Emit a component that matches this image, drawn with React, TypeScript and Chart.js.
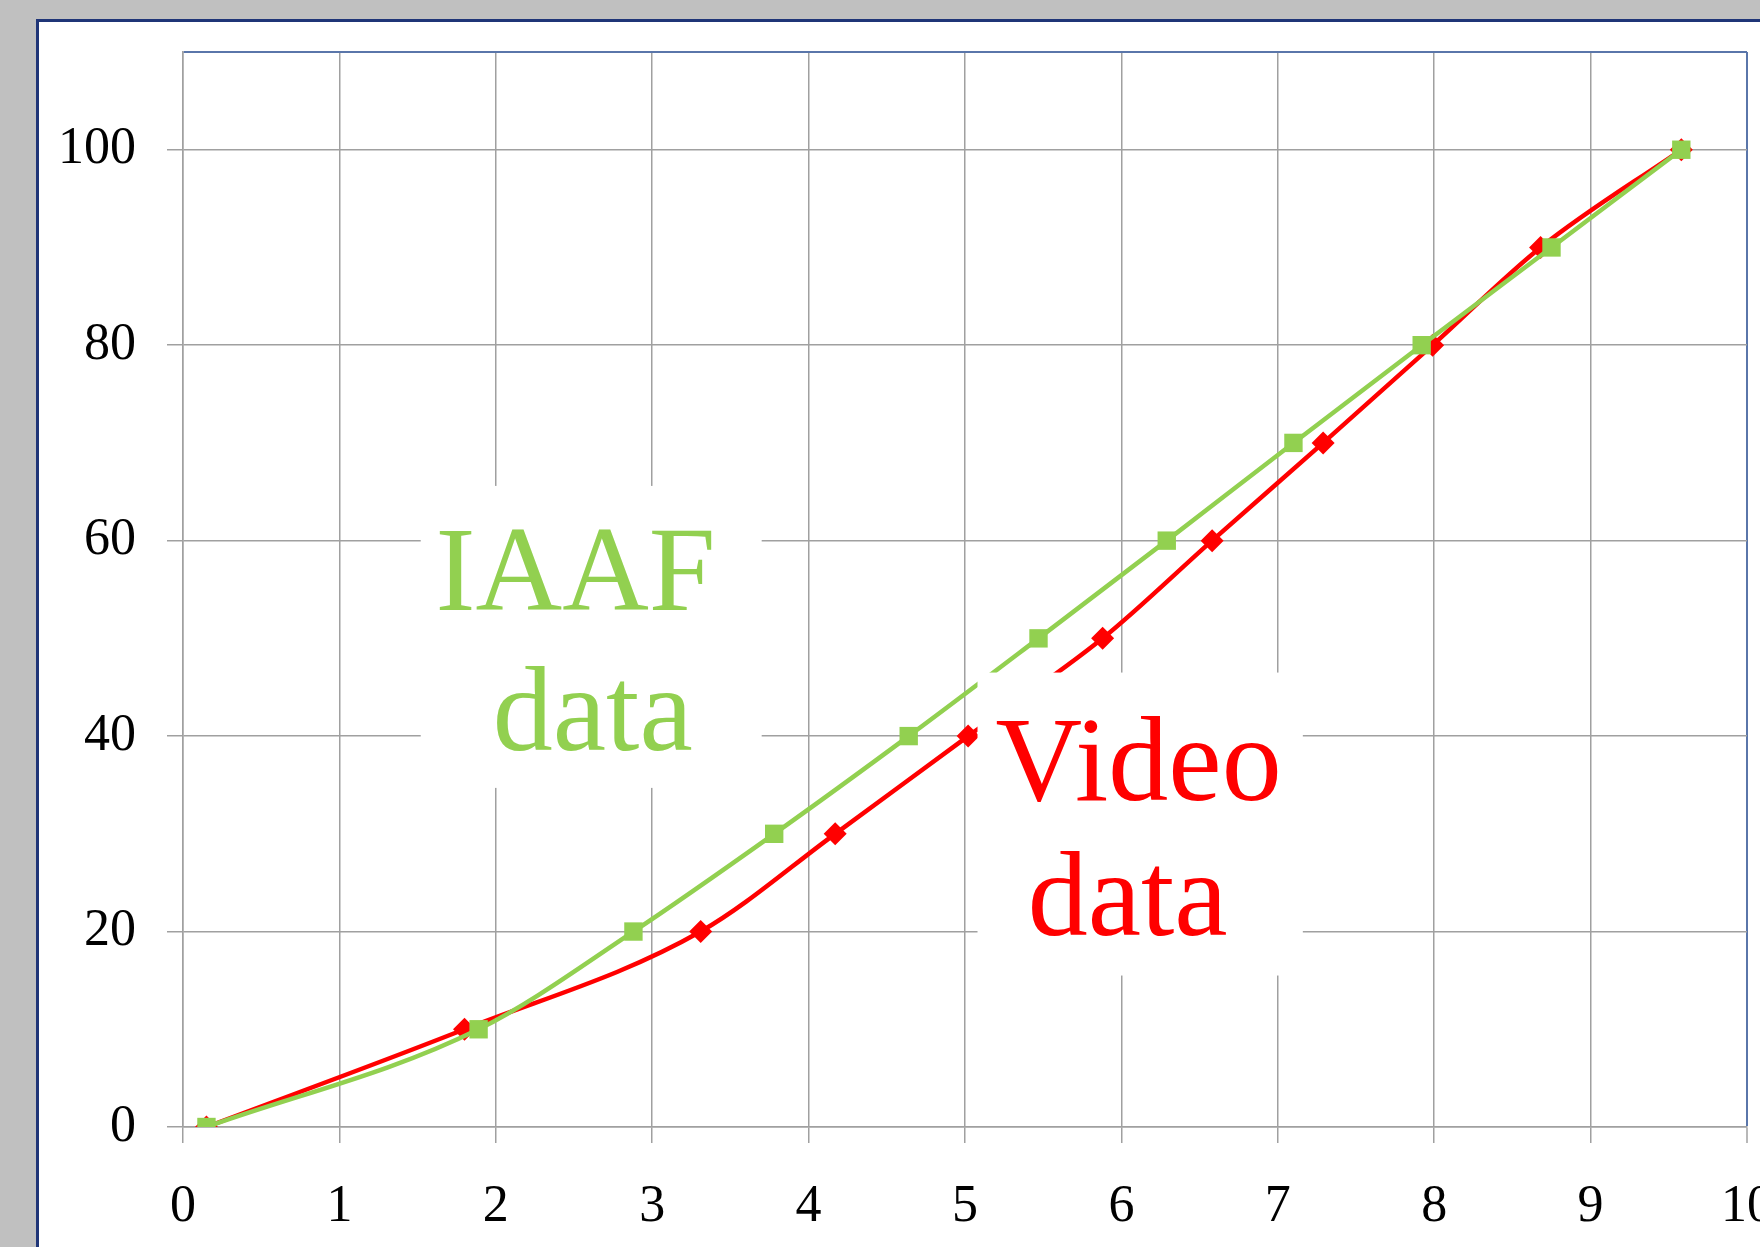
import React, { useEffect, useRef } from "react";
import { Chart, registerables } from "chart.js";

Chart.register(...registerables);

// Split times (s) at each 10 m mark (distance in m)
const distances = [0, 10, 20, 30, 40, 50, 60, 70, 80, 90, 100];
const videoTimes = [0.15, 1.8, 3.31, 4.17, 5.02, 5.88, 6.58, 7.29, 7.99, 8.68, 9.58];
const iaafTimes = [0.15, 1.89, 2.88, 3.78, 4.64, 5.47, 6.29, 7.1, 7.92, 8.75, 9.58];
const xTicks = [0, 1, 2, 3, 4, 5, 6, 7, 8, 9, 10];
const yTicks = [0, 20, 40, 60, 80, 100, 110];

// Text annotations placed in data coordinates
const labelIAAF = ["IAAF", "data"];
const labelVideo = ["Video", "data"];

const GREEN = "#92d050";
const RED = "#ff0000";
const GRID = "#a0a0a0";
const FRAME = "#5a76aa";
const SERIF = "'Liberation Serif', 'Times New Roman', serif";

const annotationPlugin = {
  id: "textBoxes",
  afterDatasetsDraw(chart: any) {
    const { ctx, scales } = chart;
    const xs = scales.x;
    const ys = scales.y;
    const boxes = [
      { x0: 1.52, x1: 3.7, y0: 65.6, y1: 34.7, lines: labelIAAF, color: GREEN, cx: [2.51, 2.62], base: [52.9, 38.6] },
      { x0: 5.08, x1: 7.16, y0: 46.5, y1: 15.5, lines: labelVideo, color: RED, cx: [6.11, 6.04], base: [33.5, 19.65] },
    ];
    ctx.save();
    for (const b of boxes) {
      const l = xs.getPixelForValue(b.x0);
      const r = xs.getPixelForValue(b.x1);
      const t = ys.getPixelForValue(b.y0);
      const bt = ys.getPixelForValue(b.y1);
      ctx.fillStyle = "#ffffff";
      ctx.fillRect(l, t, r - l, bt - t);
      ctx.fillStyle = b.color;
      ctx.font = `120px ${SERIF}`;
      ctx.textAlign = "center";
      ctx.textBaseline = "alphabetic";
      b.lines.forEach((s: string, i: number) => {
        ctx.fillText(s, xs.getPixelForValue(b.cx[i]), ys.getPixelForValue(b.base[i]));
      });
    }
    ctx.restore();
  },
};

export default function App() {
  const ref = useRef<HTMLCanvasElement>(null);
  useEffect(() => {
    document.body.style.margin = "0";
    const c = ref.current!;
    const chart = new Chart(c, {
      type: "line",
      data: {
        datasets: [
          {
            label: "IAAF data",
            data: distances.map((d, i) => ({ x: iaafTimes[i], y: d })),
            borderColor: GREEN,
            backgroundColor: GREEN,
            borderWidth: 4.5,
            pointStyle: "rect",
            pointRadius: 13,
            pointBorderWidth: 0,
            cubicInterpolationMode: "monotone",
            order: 0,
          },
          {
            label: "Video data",
            data: distances.map((d, i) => ({ x: videoTimes[i], y: d })),
            borderColor: RED,
            backgroundColor: RED,
            borderWidth: 4.5,
            pointStyle: "rectRot",
            pointRadius: 11.5,
            pointBorderWidth: 0,
            cubicInterpolationMode: "monotone",
            order: 1,
          },
        ],
      },
      options: {
        animation: false,
        responsive: false,
        events: [],
        layout: { padding: { left: 0, right: 9, top: 52, bottom: 0 } },
        plugins: { legend: { display: false }, tooltip: { enabled: false } },
        scales: {
          x: {
            type: "linear",
            min: 0,
            max: 10,
            afterBuildTicks: (s: any) => {
              s.ticks = xTicks.map((v) => ({ value: v }));
            },
            afterFit: (s: any) => {
              s.height = 120;
              s.paddingLeft = 0;
              s.paddingRight = 0;
            },
            ticks: {
              font: { family: SERIF, size: 52 },
              color: "#000",
              padding: 33,
              maxRotation: 0,
              autoSkip: false,
            },
            grid: {
              color: (ctx: any) => (ctx.tick && ctx.tick.value === 10 ? FRAME : GRID),
              lineWidth: (ctx: any) => (ctx.tick && ctx.tick.value === 10 ? 2 : 1.5),
              tickColor: GRID,
              tickLength: 16,
              tickWidth: 1.5,
            },
            border: { color: GRID, width: 1.5 },
          },
          y: {
            type: "linear",
            min: 0,
            max: 110,
            afterBuildTicks: (s: any) => {
              s.ticks = yTicks.map((v) => ({ value: v }));
            },
            afterFit: (s: any) => {
              s.width = 183;
              s.paddingTop = 0;
              s.paddingBottom = 0;
            },
            ticks: {
              font: { family: SERIF, size: 52 },
              color: "#000",
              padding: 31,
              callback: (v: any) => (v === 110 ? "" : String(v)),
            },
            grid: {
              color: (ctx: any) => (ctx.tick && ctx.tick.value === 110 ? FRAME : GRID),
              lineWidth: (ctx: any) => (ctx.tick && ctx.tick.value === 110 ? 2 : 1.5),
              tickColor: (ctx: any) => (ctx.tick && ctx.tick.value === 110 ? "rgba(0,0,0,0)" : GRID),
              tickLength: 16,
              tickWidth: 1.5,
            },
            border: { color: GRID, width: 1.5 },
          },
        },
      },
      plugins: [annotationPlugin],
    });
    return () => chart.destroy();
  }, []);

  return (
    <div style={{ position: "relative", width: 1760, height: 1247, background: "#c0c0c0", overflow: "hidden" }}>
      <div
        style={{
          position: "absolute",
          left: 36,
          top: 19,
          width: 1800,
          height: 1300,
          background: "#ffffff",
          border: "3px solid #1f3577",
          boxSizing: "border-box",
        }}
      />
      <canvas ref={ref} width={1760} height={1247} style={{ position: "absolute", left: 0, top: 0 }} />
    </div>
  );
}
